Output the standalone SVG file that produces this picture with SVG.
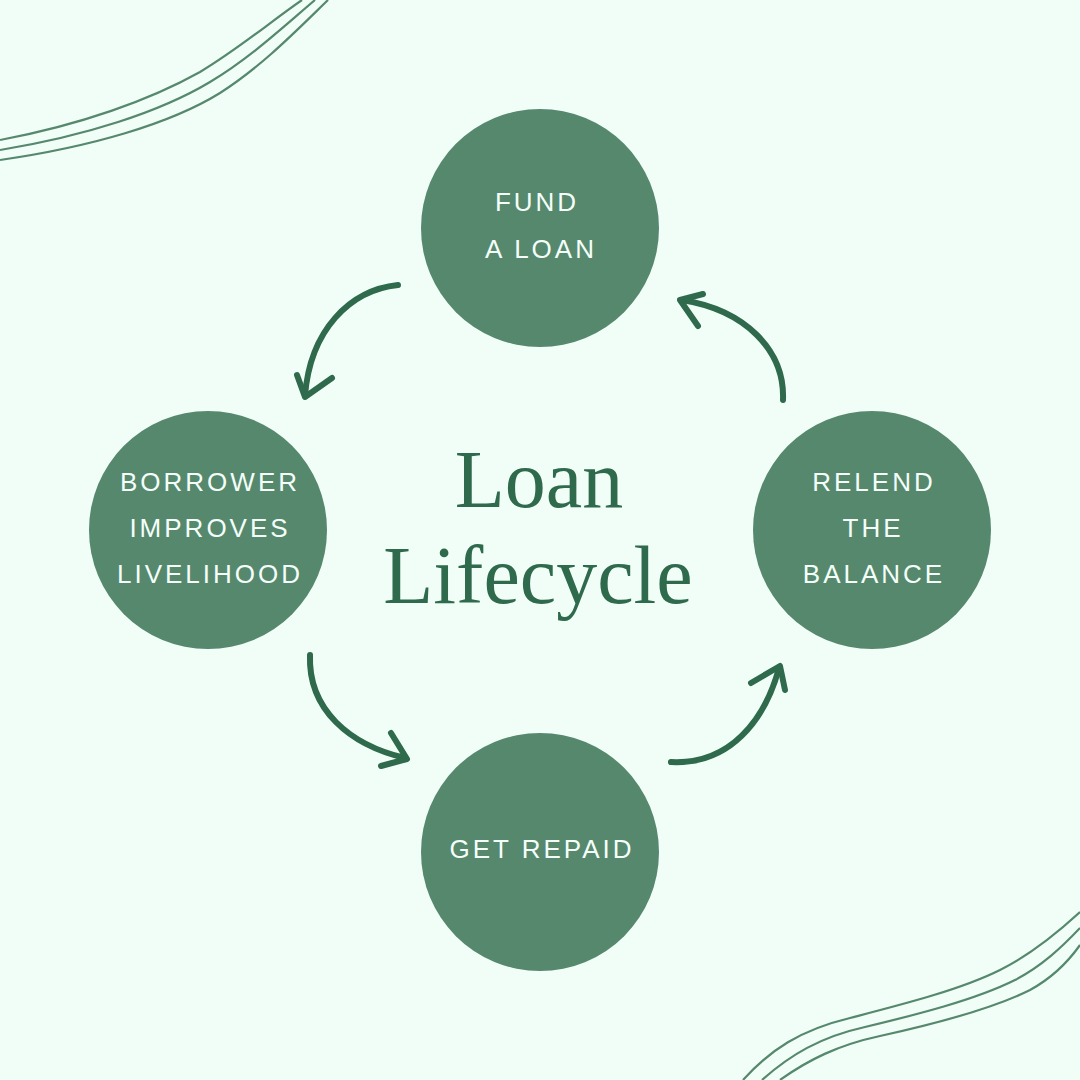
<svg xmlns="http://www.w3.org/2000/svg" width="1080" height="1080" viewBox="0 0 1080 1080">
<style>
.node{fill:#56886E}
.lbl{font-family:"Liberation Sans",Arial,sans-serif;font-size:26px;letter-spacing:3px;fill:#F4FFF9;text-anchor:middle}
.deco{fill:none;stroke:#56886E;stroke-width:2.2}
.arr{fill:none;stroke:#2F6A4D;stroke-width:6;stroke-linecap:round;stroke-linejoin:round}
.title{font-family:"Liberation Serif","Times New Roman",serif;font-size:82px;fill:#2F6A4D;text-anchor:middle}
</style>
<rect width="1080" height="1080" fill="#F1FEF7"/>
<g id="decoration">
<path class="deco" d="M0,140 C80,125 150,100 200,72 C240,48 270,22 302,0"/>
<path class="deco" d="M0,150 C85,136 160,112 210,82 C250,58 282,28 315,0"/>
<path class="deco" d="M0,160 C90,147 170,124 220,93 C262,66 295,32 328,0"/>
<path class="deco" d="M743,1080 C770,1050 800,1030 850,1018 C900,1005 960,990 1000,970 C1030,955 1055,935 1080,912"/>
<path class="deco" d="M762,1080 C790,1055 820,1037 865,1027 C915,1015 975,1000 1015,980 C1042,966 1062,947 1080,928"/>
<path class="deco" d="M780,1080 C808,1060 838,1045 880,1036 C930,1025 990,1010 1030,990 C1052,978 1068,962 1080,945"/>
</g>
<g id="title">
<text class="title" x="539" y="507">Loan</text>
<text class="title" x="538" y="603">Lifecycle</text>
</g>
<g id="connectors">
<path class="arr" d="M398,285 C350,290 310,330 305,396"/>
<path class="arr" d="M297,375 L305,397 L332,378"/>
<path class="arr" d="M783,400 C785,350 745,310 682,300"/>
<path class="arr" d="M703,294 L680,300 L698,326"/>
<path class="arr" d="M310,655 C308,710 350,745 405,758"/>
<path class="arr" d="M391,733 L407,759 L381,766"/>
<path class="arr" d="M671,762 C730,765 765,720 779,668"/>
<path class="arr" d="M751,683 L780,666 L785,690"/>
</g>
<g id="node-fund">
<circle class="node" cx="540" cy="228" r="119"/>
<text class="lbl" x="537" y="211">FUND</text>
<text class="lbl" x="541" y="258">A LOAN</text>
</g>
<g id="node-borrower">
<circle class="node" cx="208" cy="530" r="119"/>
<text class="lbl" x="210" y="491">BORROWER</text>
<text class="lbl" x="210" y="537">IMPROVES</text>
<text class="lbl" x="210" y="583">LIVELIHOOD</text>
</g>
<g id="node-repaid">
<circle class="node" cx="540" cy="852" r="119"/>
<text class="lbl" x="542" y="858">GET REPAID</text>
</g>
<g id="node-relend">
<circle class="node" cx="872" cy="530" r="119"/>
<text class="lbl" x="874" y="491">RELEND</text>
<text class="lbl" x="873" y="537">THE</text>
<text class="lbl" x="874" y="583">BALANCE</text>
</g>
</svg>
